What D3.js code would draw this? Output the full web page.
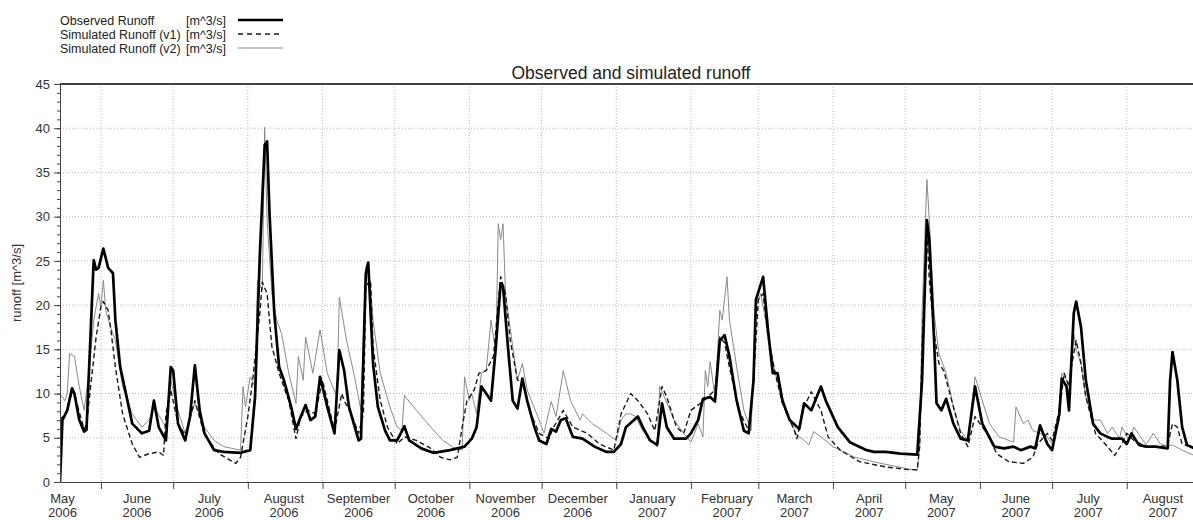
<!DOCTYPE html>
<html>
<head>
<meta charset="utf-8">
<script src="https://cdn.jsdelivr.net/npm/d3@7"></script>
<style>
    body { margin: 0; background: #fff; }
    svg { display: block; font-family: "Liberation Sans", Arial, sans-serif; }
    .grid line { stroke: #b8b8b8; stroke-width: 1; stroke-dasharray: 1,2; }
    .axis path, .axis line { stroke: #444; }
    .axis text { fill: #333; font-size: 13px; }
</style>
</head>
<body>
<svg width="1193" height="520"></svg>
<script>
// day index counted from startDate, value in m^3/s
var startDate = "2006-05-15",
    endDate = "2007-08-31";

var observed = [[0,0],[1,7.0],[3,8.1],[5,10.6],[6,10.0],[8,7.0],[10,5.7],[11,5.9],[12,12.3],[14,25.1],[15,24.0],[16,24.2],
    [18,26.4],[20,24.2],[22,23.6],[23,18.3],[25,13.0],[28,9.2],[30,6.6],[34,5.5],[37,5.8],[39,9.2],[41,6.2],[44,4.7],
    [46,13.0],[47,12.6],[49,6.6],[52,4.7],[54,7.4],[56,13.2],[58,8.1],[60,5.5],[64,3.6],[68,3.4],[75,3.3],[79,3.6],
    [81,9.6],[83,25.8],[85,38.1],[86,38.5],[87,30.4],[89,19.0],[91,13.0],[93,11.5],[96,8.5],[98,6.0],[100,7.4],
    [102,8.7],[104,7.0],[106,7.4],[108,11.9],[111,8.5],[114,5.5],[116,14.9],[118,12.6],[120,8.5],[124,4.7],[125,4.9],
    [127,23.6],[128,24.8],[130,13.4],[132,8.5],[135,5.8],[137,4.7],[140,4.7],[143,6.3],[145,4.7],[150,3.8],[155,3.3],
    [162,3.6],[168,4.0],[171,4.9],[173,6.2],[175,10.8],[177,10.0],[179,9.2],[181,15.3],[183,22.5],[184,22.1],[186,15.3],
    [188,9.2],[190,8.3],[192,11.7],[194,9.2],[197,6.2],[199,4.7],[202,4.3],[204,6.0],[206,5.7],[208,7.0],[210,7.2],
    [213,5.1],[217,4.9],[222,4.0],[227,3.4],[230,3.4],[233,4.3],[235,6.2],[240,7.4],[242,6.2],[245,4.7],[248,4.2],
    [250,8.9],[252,6.2],[255,4.9],[260,4.9],[262,5.5],[265,7.0],[267,9.4],[270,9.6],[272,9.1],[274,16.0],[276,16.6],
    [278,14.2],[281,9.2],[284,5.8],[286,5.5],[288,11.5],[289,20.6],[292,23.2],[294,17.2],[296,12.3],[298,12.3],
    [300,9.2],[303,7.0],[307,6.0],[309,8.9],[312,8.1],[316,10.8],[318,9.2],[323,6.2],[328,4.5],[335,3.6],[338,3.4],
    [343,3.4],[349,3.2],[356,3.1],[358,11.5],[360,29.6],[361,27.4],[363,16.0],[364,8.9],[366,8.1],[368,9.4],[371,6.6],
    [374,4.9],[377,4.7],[380,10.8],[383,6.6],[388,4.0],[392,3.8],[396,4.0],[399,3.6],[403,4.0],[405,3.8],[407,6.4],
    [410,4.3],[412,3.6],[415,7.7],[416,11.7],[418,10.8],[419,8.1],[421,19.1],[422,20.4],[424,17.5],[426,11.5],
    [429,6.6],[432,5.5],[435,5.1],[437,4.9],[441,4.9],[443,4.3],[445,5.5],[448,4.2],[451,4.0],[455,4.0],[460,3.8],
    [461,11.5],[462,14.7],[464,11.5],[466,6.2],[468,4.2],[471,3.8],[473,3.7]];

var simulatedV1 = [[0,7.0],[3,8.0],[5,10.3],[6,9.8],[10,6.0],[11,6.5],[13,11.5],[15,16.4],[17,19.8],[18,20.4],[20,19.4],
    [21,17.5],[23,13.0],[26,7.7],[30,4.3],[33,2.8],[37,3.2],[41,3.4],[43,3.0],[44,7.7],[46,10.4],[49,6.6],[52,5.3],
    [56,9.2],[60,5.3],[66,3.2],[73,2.1],[75,2.8],[78,7.4],[80,11.5],[83,19.1],[84,22.6],[86,21.3],[88,15.3],[91,12.3],
    [95,9.2],[98,4.9],[100,7.4],[103,8.1],[106,7.7],[109,11.5],[114,5.8],[117,10.0],[118,9.2],[121,7.7],[124,5.5],
    [126,7.7],[127,22.1],[129,22.8],[130,15.3],[133,9.2],[136,6.2],[140,4.3],[143,5.1],[148,4.7],[154,3.8],[158,2.8],
    [162,2.5],[165,2.8],[167,6.2],[169,9.2],[172,10.4],[174,12.3],[177,12.6],[180,14.2],[183,23.2],[185,21.3],
    [187,16.0],[190,11.5],[192,11.5],[195,8.1],[199,5.5],[203,4.9],[205,6.2],[209,8.1],[213,6.2],[219,5.5],[224,4.3],
    [230,3.6],[233,7.7],[237,10.0],[240,9.2],[244,7.7],[247,5.8],[250,10.8],[252,9.6],[256,6.2],[259,5.5],[262,8.1],
    [266,8.9],[269,9.6],[272,10.4],[274,16.4],[276,15.7],[278,13.0],[282,8.1],[286,5.8],[288,11.5],[290,20.6],
    [292,21.3],[294,16.4],[297,12.3],[300,8.9],[305,5.8],[306,4.9],[309,8.5],[312,10.2],[316,8.1],[319,5.1],[324,3.6],
    [332,2.3],[343,1.7],[352,1.4],[356,1.4],[357,4.0],[358,15.3],[360,28.5],[361,22.8],[363,16.8],[365,13.4],
    [367,12.6],[371,8.5],[374,5.5],[377,4.0],[380,7.4],[382,6.6],[385,5.5],[389,3.2],[394,2.3],[400,2.1],[404,2.8],
    [406,4.3],[410,5.5],[412,4.7],[415,8.1],[417,12.3],[419,10.8],[420,13.0],[422,16.0],[424,13.4],[426,9.6],
    [430,5.5],[435,4.0],[438,3.0],[441,4.3],[443,5.5],[446,4.7],[451,4.0],[457,4.0],[460,4.2],[462,6.6],[464,6.2],
    [466,4.3],[471,3.8],[473,3.7]];

var simulatedV2 = [[0,10.0],[2,9.2],[3,10.0],[4,14.5],[6,14.2],[8,10.8],[10,8.1],[12,12.3],[14,18.3],[16,21.3],[17,19.8],
    [18,22.8],[19,19.4],[21,17.5],[23,16.0],[26,10.8],[30,7.7],[34,6.2],[37,7.0],[39,8.5],[44,6.2],[46,11.5],[49,8.1],
    [52,5.5],[56,8.9],[60,6.2],[64,4.7],[68,4.0],[75,3.6],[76,10.8],[77,8.5],[79,11.9],[81,10.8],[82,22.8],[84,21.7],
    [85,40.1],[86,29.6],[88,21.3],[90,18.3],[92,16.8],[95,12.3],[98,8.9],[99,14.2],[101,11.5],[102,16.4],[105,12.3],
    [108,17.2],[111,12.3],[115,9.6],[116,20.9],[119,16.0],[122,12.3],[125,8.1],[127,24.3],[128,24.9],[130,18.3],
    [133,12.3],[137,8.5],[140,6.2],[142,5.8],[143,9.8],[148,8.1],[154,6.2],[159,4.7],[164,3.8],[167,3.6],[168,11.9],
    [170,9.2],[171,10.0],[173,7.7],[175,12.3],[177,12.6],[179,18.3],[181,14.5],[182,29.2],[183,27.4],[184,29.2],
    [185,21.3],[188,15.3],[190,11.5],[192,13.4],[194,10.4],[198,7.7],[201,5.5],[204,9.1],[206,7.4],[209,12.6],
    [212,9.2],[216,7.0],[217,7.7],[221,6.6],[227,5.5],[231,4.7],[233,7.0],[235,7.7],[237,7.7],[239,7.4],[242,5.8],
    [245,4.9],[248,4.0],[249,10.8],[251,9.6],[255,7.0],[259,5.5],[262,4.5],[265,6.6],[267,5.1],[268,12.6],[269,10.8],
    [270,13.6],[272,9.6],[274,19.4],[275,18.3],[277,23.2],[278,18.3],[281,13.0],[284,8.1],[287,5.8],[289,19.8],
    [291,21.3],[294,16.8],[297,12.3],[300,9.6],[303,7.0],[306,5.3],[309,4.7],[311,4.2],[313,5.7],[316,5.1],[321,4.0],
    [330,2.8],[341,2.1],[352,1.5],[356,1.3],[357,4.0],[358,19.1],[360,34.2],[361,29.6],[363,19.1],[365,14.5],
    [366,13.8],[368,12.3],[371,8.5],[374,5.8],[377,4.7],[380,11.9],[383,9.2],[386,6.6],[390,5.1],[394,4.7],[396,4.5],
    [397,8.5],[400,6.6],[402,7.0],[404,5.8],[407,5.5],[410,5.1],[412,4.3],[415,7.0],[416,12.3],[419,11.1],[421,16.8],
    [422,14.9],[424,13.4],[426,9.6],[429,7.0],[432,7.0],[435,5.5],[437,6.2],[440,4.9],[441,6.2],[444,4.7],[446,6.2],
    [451,4.2],[454,5.5],[457,4.3],[460,4.0],[462,4.2],[466,3.6],[471,3.0],[473,2.9]];

var yTicks = [0, 5, 10, 15, 20, 25, 30, 35, 40, 45];
var legendNames = ["Observed Runoff", "Simulated Runoff (v1)", "Simulated Runoff (v2)"],
    legendUnit = "[m^3/s]";
var title = "Observed and simulated runoff",
    yLabel = "runoff [m^3/s]";

var svg = d3.select("svg"),
    plotLeft = 60, plotRight = 1199, plotTop = 84, plotBottom = 482;

var parse = d3.utcParse("%Y-%m-%d"),
    t0 = parse(startDate),
    t1 = parse(endDate);

var x = d3.scaleUtc().domain([t0, t1]).range([plotLeft, plotRight]),
    y = d3.scaleLinear().domain([0, 45]).range([plotBottom, plotTop]);

function toPoints(series) {
    return series.map(function (d) {
        return {date: d3.utcDay.offset(t0, d[0]), value: d[1]};
    });
}

var months = d3.utcMonth.range(d3.utcMonth.ceil(t0), t1),
    labelMonths = d3.utcMonth.range(d3.utcMonth.floor(t0), t1);

// grid
var grid = svg.append("g").attr("class", "grid");
grid.selectAll(".h").data(yTicks.slice(1, -1)).enter().append("line")
    .attr("x1", plotLeft).attr("x2", plotRight)
    .attr("y1", function (d) { return y(d); })
    .attr("y2", function (d) { return y(d); });
grid.selectAll(".v").data(months).enter().append("line")
    .attr("y1", plotTop).attr("y2", plotBottom)
    .attr("x1", function (d) { return x(d); })
    .attr("x2", function (d) { return x(d); });

// lines
svg.append("clipPath").attr("id", "plot")
    .append("rect").attr("x", plotLeft).attr("y", plotTop)
    .attr("width", plotRight - plotLeft).attr("height", plotBottom - plotTop + 1);

var line = d3.line()
    .x(function (d) { return x(d.date); })
    .y(function (d) { return y(d.value); });

var styles = [
    {data: simulatedV2, stroke: "#8a8a8a", width: 1, dash: null},
    {data: simulatedV1, stroke: "#1a1a1a", width: 1.4, dash: "5,3"},
    {data: observed, stroke: "#000", width: 2.7, dash: null}
];
var plot = svg.append("g").attr("clip-path", "url(#plot)");
styles.forEach(function (s) {
    plot.append("path")
        .datum(toPoints(s.data))
        .attr("fill", "none")
        .attr("stroke", s.stroke)
        .attr("stroke-width", s.width)
        .attr("stroke-dasharray", s.dash)
        .attr("stroke-linejoin", "round")
        .attr("d", line);
});

// axes
svg.append("g").attr("class", "axis")
    .attr("transform", "translate(" + plotLeft + ",0)")
    .call(d3.axisLeft(y).ticks(45).tickSize(3).tickFormat(""))
    .select(".domain").remove();
svg.append("g").attr("class", "axis")
    .attr("transform", "translate(" + plotLeft + ",0)")
    .call(d3.axisLeft(y).tickValues(yTicks).tickSize(6).tickPadding(4).tickSizeOuter(0));

svg.append("g").attr("class", "axis")
    .attr("transform", "translate(0," + plotBottom + ")")
    .call(d3.axisBottom(x).tickValues(months).tickSize(7).tickSizeOuter(0).tickFormat(""));

var monthLabel = svg.append("g").attr("class", "axis").selectAll("text")
    .data(labelMonths).enter().append("text")
    .attr("text-anchor", "middle")
    .attr("transform", function (d) {
        return "translate(" + x(d3.utcDay.offset(d, 15)) + ",0)";
    });
monthLabel.append("tspan").attr("x", 0).attr("y", 503).text(d3.utcFormat("%B"));
monthLabel.append("tspan").attr("x", 0).attr("y", 517).text(d3.utcFormat("%Y"));

svg.append("line")
    .attr("x1", plotLeft).attr("x2", plotRight).attr("y1", plotTop).attr("y2", plotTop)
    .attr("stroke", "#444").attr("stroke-width", 2);

svg.append("text")
    .attr("x", 631).attr("y", 79)
    .attr("text-anchor", "middle")
    .attr("font-size", 17.5).attr("fill", "#222")
    .text(title);

svg.append("text")
    .attr("transform", "translate(21," + ((plotTop + plotBottom) / 2) + ") rotate(-90)")
    .attr("text-anchor", "middle")
    .attr("font-size", 13).attr("fill", "#333")
    .text(yLabel);

// legend
var legend = svg.append("g").selectAll("g")
    .data(legendNames).enter().append("g")
    .attr("transform", function (d, i) { return "translate(60," + (20 + i * 14) + ")"; });
legend.append("text").attr("y", 4.5).attr("font-size", 12.5).attr("fill", "#222")
    .text(function (d) { return d; });
legend.append("text").attr("x", 126).attr("y", 4.5).attr("font-size", 12.5).attr("fill", "#222")
    .text(legendUnit);
legend.append("line")
    .attr("x1", 178).attr("x2", 223)
    .attr("stroke", function (d, i) { return [styles[2], styles[1], styles[0]][i].stroke; })
    .attr("stroke-width", function (d, i) { return [2.6, 1.4, 1.2][i]; })
    .attr("stroke-dasharray", function (d, i) { return i == 1 ? "5,4" : null; });
</script>
</body>
</html>
